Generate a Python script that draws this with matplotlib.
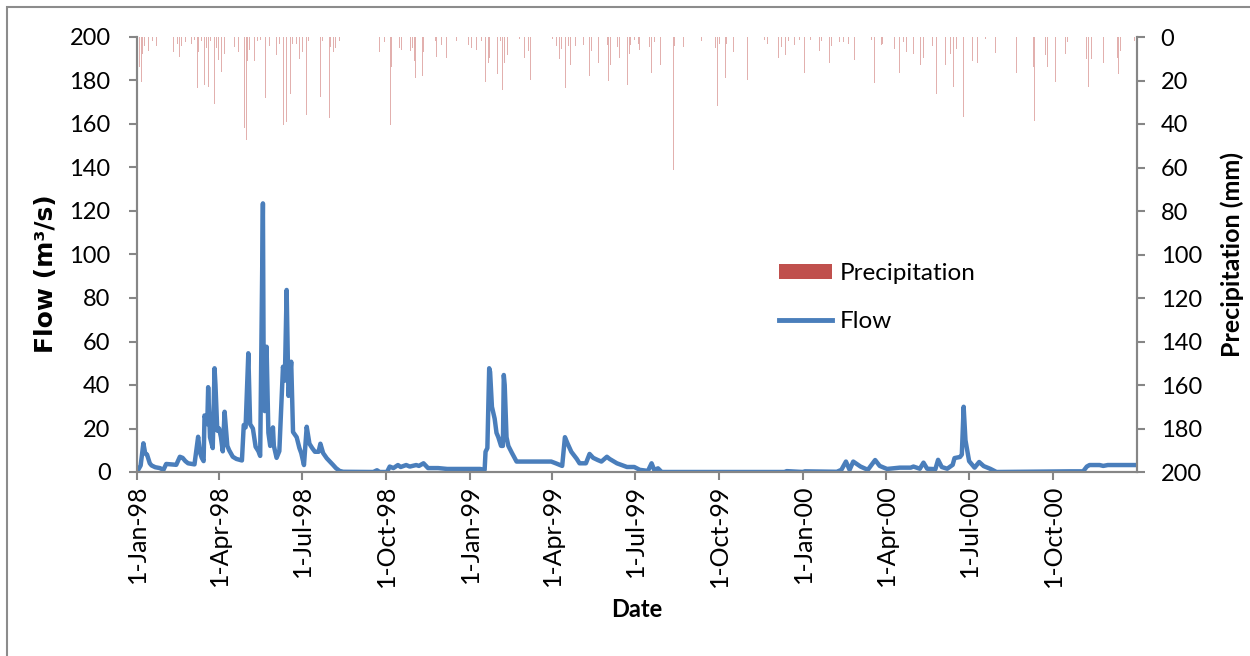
import numpy as np
import matplotlib
matplotlib.use("Agg")
import matplotlib.pyplot as plt
import matplotlib.dates as mdates
from matplotlib.lines import Line2D
from matplotlib.patches import Patch, Rectangle
from matplotlib.ticker import FuncFormatter

START = np.datetime64("1998-01-01")

# daily flow (m3/s), days counted from 1-Jan-98
flow_day = [0, 4, 7, 9, 11, 14, 16, 20, 25, 29, 32, 38, 43, 47, 50, 53, 56, 63,
            67, 69, 71, 73, 74, 77, 78, 80, 83, 85, 86, 88, 90, 92, 94, 96, 99,
            101, 105, 109, 113, 115, 117, 119, 122, 124, 127, 130, 133, 135,
            138, 139, 140, 142, 144, 146, 149, 150, 153, 156, 160, 162, 164,
            166, 167, 169, 171, 175, 178, 180, 183, 186, 189, 192, 195, 199,
            201, 204, 208, 211, 215, 218, 222, 226, 259, 263, 266, 274, 277,
            281, 286, 289, 295, 299, 306, 309, 314, 319, 330, 340, 376, 381,
            382, 384, 386, 387, 389, 392, 394, 396, 399, 401, 402, 403, 405,
            407, 411, 416, 454, 459, 466, 469, 472, 476, 482, 485, 492, 496,
            500, 505, 509, 515, 518, 526, 537, 545, 551, 560, 564, 567, 571,
            575, 710, 712, 730, 732, 767, 772, 777, 781, 785, 793, 801, 809,
            814, 822, 836, 848, 851, 858, 862, 866, 875, 878, 882, 888, 894,
            896, 902, 904, 906, 908, 912, 918, 923, 928, 935, 942, 1022, 1037,
            1041, 1044, 1055, 1059, 1064, 1096]
flow_cms = [0, 3, 13.2, 8.5, 8, 4, 3, 2.2, 1.8, 1, 3.7, 3.5, 3.3, 7, 6.5, 5, 4, 3.5,
            16.2, 9, 6.5, 5, 26, 22, 39, 16, 11, 47.7, 40, 19, 20, 16, 9.5, 27.7, 12,
            10, 7, 6, 5.5, 5.3, 21.6, 20.5, 54.6, 22, 20, 11.6, 9.6, 7.4,
            123.5, 30, 28, 57.6, 18, 12, 20.5, 12, 6.5, 9.6, 48.4, 42, 83.7,
            35, 40, 50.7, 18.4, 16, 11, 8.7, 3.2, 20.8, 13, 11, 9.3, 9.3,
            13, 8.7, 6.3, 5, 3.2, 1.8, 0.5, 0.1, 0, 0.8, 0, 0, 2.5,
            1.8, 3.2, 2.3, 3.2, 2.5, 3.2, 2.8, 4, 1.8, 1.8, 1.4, 1.4, 1,
            9.3, 11, 47.7, 46, 30, 24.5, 18, 16, 12, 12, 44.6, 40, 16,
            12, 8.7, 4.8, 4.8, 4, 2.8, 16, 13, 9.3, 6, 4, 4, 8.3,
            6.5, 5.5, 4.8, 7, 6, 4, 2.3, 2.3, 1, 0.5, 4, 0.8, 1.7,
            0, 0, 0.4, 0, 0.3, 0.1, 1, 4.8, 1, 4.8, 2.5, 1, 5.5,
            2.8, 1.4, 2, 2, 2.5, 1.5, 4.3, 1.5, 1.3, 5.6, 2.3, 1.5, 3.3,
            6.4, 6.9, 8, 30, 14.6, 5, 2, 4.6, 2.7, 1.5, 0, 0.3, 0.3,
            2.5, 3.2, 3.2, 2.8, 3.2, 3.2]

# daily precipitation (mm)
precip_day = [3, 5, 6, 8, 13, 17, 21, 40, 44, 47, 49, 53, 57, 60, 63, 66, 67, 71,
              74, 76, 78, 81, 85, 87, 89, 93, 96, 102, 107, 111, 115, 118, 120,
              121, 123, 125, 129, 132, 135, 138, 141, 145, 148, 153, 156, 159,
              161, 164, 168, 170, 172, 175, 178, 181, 186, 188, 201, 203, 211,
              212, 215, 218, 222, 228, 262, 266, 271, 274, 278, 279, 288, 290,
              300, 302, 304, 305, 308, 313, 314, 327, 328, 334, 339, 350, 353,
              363, 365, 367, 372, 376, 378, 382, 385, 386, 395, 398, 401, 403,
              406, 411, 419, 422, 425, 429, 431, 455, 457, 460, 463, 465, 468,
              470, 473, 475, 481, 489, 490, 496, 498, 502, 506, 516, 517, 519,
              527, 529, 538, 540, 550, 541, 545, 551, 562, 564, 567, 571, 574,
              583, 588, 589, 599, 619, 627, 634, 636, 638, 640, 645, 646, 654,
              669, 688, 691, 703, 706, 711, 714, 721, 726, 732, 738, 748, 750,
              759, 761, 770, 774, 777, 780, 786, 800, 805, 808, 816, 817, 830,
              836, 840, 843, 851, 856, 859, 862, 868, 872, 876, 886, 892, 895,
              898, 901, 906, 916, 921, 930, 941, 947, 959, 964, 970, 983, 984,
              996, 998, 1007, 1018, 1020, 1041, 1043, 1046, 1059, 1075, 1076,
              1078, 1084, 1093]
precip_mm = [13.6, 20.5, 8, 4, 6.3, 2, 4, 7, 3, 9, 4, 2.5, 2, 3, 1.5, 23.6, 7, 2,
             22, 5, 23, 2, 31, 5, 10.6, 16, 8, 8.5, 4.5, 7, 2, 42, 47.4,
             11, 6, 12, 11, 2, 1.5, 58.9, 28, 4, 16.9, 8.5, 3, 19.8,
             40.5, 39, 26, 3, 18, 3, 10, 7, 36, 2, 27.4, 2, 37.4,
             4.5, 7, 5, 2, 1.5, 23, 7, 2.5, 2, 40.5, 14, 5, 6,
             6.5, 5, 11, 18.7, 2, 18, 7, 2, 9.3, 3.5, 9.5, 2, 8.5,
             3.5, 30, 5, 6, 2, 2, 20.5, 12, 9.5, 17, 2, 24.4, 12,
             8.5, 2, 1, 2, 9.5, 6.5, 19.8, 1, 9, 4, 10, 5.5, 13,
             23.6, 4, 13, 4, 3.5, 18.5, 17.8, 6.5, 2.5, 12, 3.5, 20, 13,
             4.5, 9.6, 22, 8, 3, 3.5, 1.5, 6, 4.5, 16.7, 2.5, 48, 13,
             4.5, 61, 4, 4.5, 2, 1, 5, 31.7, 3, 8.6, 18.7, 3, 7,
             19.8, 1.5, 3, 9.6, 4.5, 8.4, 2, 3.5, 1.5, 16.7, 1.5, 6.5, 2,
             12, 4, 2.5, 2.5, 24.4, 3, 10.7, 2.5, 1.5, 21, 3.5, 3, 5.5,
             16.7, 2.5, 7, 8, 4.5, 13, 9.5, 11.8, 4, 26, 13, 8, 23,
             5.5, 24.2, 36.6, 11, 12, 1, 7.5, 5.5, 17.5, 16.5, 4.5, 14, 38.5,
             8.5, 14, 20.8, 8, 2.5, 10, 22.8, 10, 11.8, 9.5, 17,
             6.5, 4.5, 2]

quarter_ticks = ["1998-01-01", "1998-04-01", "1998-07-01", "1998-10-01",
                 "1999-01-01", "1999-04-01", "1999-07-01", "1999-10-01",
                 "2000-01-01", "2000-04-01", "2000-07-01", "2000-10-01"]

flow_dates = START + np.array(flow_day).astype("timedelta64[D]")
precip_dates = START + np.array(precip_day).astype("timedelta64[D]")

plt.rcParams["font.family"] = ["Lato", "DejaVu Sans"]
GREY = "#868686"
BLUE = "#4A7EBB"
RED = "#C0504D"

fig = plt.figure(figsize=(12.5, 6.56), dpi=100)
fig.add_artist(Rectangle((7 / 1250, -0.1), 1.2, 1 - 7 / 656 + 0.1,
                         transform=fig.transFigure, fill=False,
                         edgecolor="#8c8c8c", linewidth=1.5))

ax = fig.add_axes([137 / 1250, 1 - 472 / 656, 1000 / 1250, 435 / 656])
ax2 = ax.twinx()

ax.plot(flow_dates, flow_cms, color=BLUE, linewidth=3.2, solid_joinstyle="round")
ax2.bar(precip_dates, precip_mm, width=0.9, bottom=0, color=RED, alpha=0.45,
        linewidth=0, align="center")

ax.set_xlim(np.datetime64("1998-01-01"), np.datetime64("2001-01-01"))
ax.set_ylim(0, 200)
ax.set_yticks(np.arange(0, 201, 20))
ax2.set_ylim(200, 0)
ax2.set_yticks(np.arange(0, 201, 20))

ax.set_xticks([np.datetime64(d) for d in quarter_ticks])
ax.xaxis.set_major_formatter(FuncFormatter(
    lambda v, pos: (lambda d: f"{d.day}-{d:%b}-{d:%y}")(mdates.num2date(v))))
for lbl in ax.get_xticklabels():
    lbl.set_rotation(90)

for a in (ax, ax2):
    a.spines["top"].set_visible(False)
    for side in ("left", "right", "bottom"):
        a.spines[side].set_color(GREY)
        a.spines[side].set_linewidth(1.5)
    a.tick_params(colors=GREY, width=1.5, length=6, labelcolor="black",
                  labelsize=17)
ax.tick_params(axis="x", pad=3, labelsize=18)
ax.tick_params(axis="y", pad=13)
ax2.tick_params(axis="y", pad=11)

ax.set_ylabel("Flow (m³/s)", fontsize=18, fontweight="bold",
              family=["DejaVu Sans"])
ax.yaxis.set_label_coords(-0.079, 0.455)
ax2.set_ylabel("Precipitation (mm)", fontsize=18, fontweight="bold")
ax2.yaxis.set_label_coords(1.083, 0.5)
ax.set_xlabel("Date", fontsize=17, fontweight="bold", labelpad=8)

handles = [Patch(facecolor=RED, edgecolor="none"),
           Line2D([0], [0], color=BLUE, linewidth=3.5)]
ax2.legend(handles, ["Precipitation", "Flow"], loc="upper left",
           bbox_to_anchor=(0.62, 0.53), frameon=False, fontsize=17.5,
           handlelength=2.2, handleheight=0.6, handletextpad=0.3,
           labelspacing=1.1)

fig.savefig("out.png", dpi=100)
